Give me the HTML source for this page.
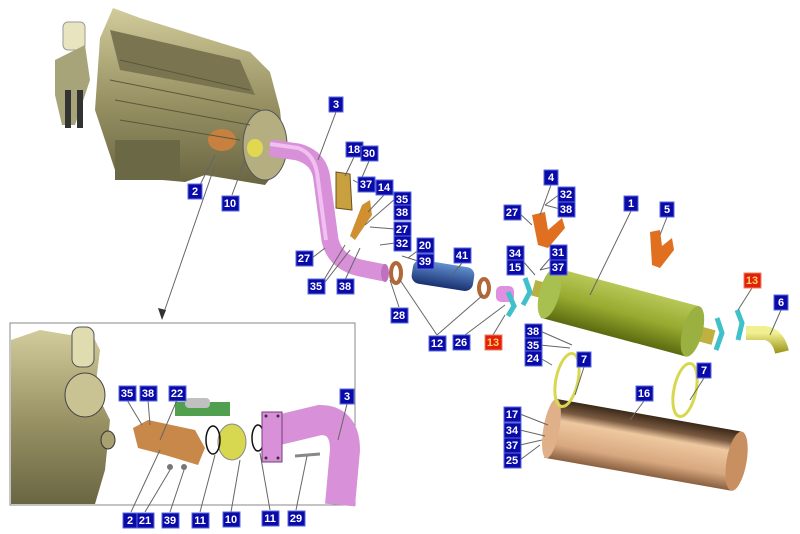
<!DOCTYPE html>
<html><head><meta charset="utf-8"><style>
html,body{margin:0;padding:0;background:#fff;}
svg{display:block;}
.l rect{fill:#0a0aa8;stroke:#5a6adf;stroke-width:1;}
.r rect{fill:#e0200c;stroke:#f08060;stroke-width:1;}
.l text,.r text{font-family:"Liberation Sans",sans-serif;font-weight:bold;font-size:11px;fill:#fff;text-anchor:middle;}
.r text{fill:#ffd060;}
.ln{stroke:#666;stroke-width:1;fill:none;}
</style></head><body>
<svg width="800" height="534" viewBox="0 0 800 534" xmlns="http://www.w3.org/2000/svg">
<defs>
<linearGradient id="eng" x1="0" y1="0" x2="0" y2="1"><stop offset="0" stop-color="#d2cc9c"/><stop offset="0.5" stop-color="#9a9466"/><stop offset="1" stop-color="#6a6642"/></linearGradient>
<linearGradient id="grn" x1="0" y1="0" x2="0" y2="1"><stop offset="0" stop-color="#b8c858"/><stop offset="0.5" stop-color="#98aa30"/><stop offset="1" stop-color="#5a6a10"/></linearGradient>
<linearGradient id="brn" x1="0" y1="0" x2="0" y2="1"><stop offset="0" stop-color="#3a2818"/><stop offset="0.2" stop-color="#7a5a40"/><stop offset="0.35" stop-color="#eec8a0"/><stop offset="0.75" stop-color="#d8a880"/><stop offset="1" stop-color="#8a6040"/></linearGradient>
<linearGradient id="blu" x1="0" y1="0" x2="0" y2="1"><stop offset="0" stop-color="#6090d0"/><stop offset="1" stop-color="#1a3070"/></linearGradient>
<linearGradient id="yel" x1="0" y1="0" x2="0" y2="1"><stop offset="0" stop-color="#f0f090"/><stop offset="1" stop-color="#a09820"/></linearGradient>
</defs>

<!-- Engine -->
<polygon points="100,38 113,8 140,18 250,52 270,72 280,110 285,160 265,185 235,180 205,175 185,182 140,178 115,170 95,110" fill="url(#eng)"/>
<polygon points="110,30 240,60 255,95 120,70" fill="#7a7550"/>
<rect x="115" y="140" width="65" height="40" fill="#6b6845"/>
<ellipse cx="265" cy="145" rx="22" ry="35" fill="#b4ae80" stroke="#555" stroke-width="1"/>
<rect x="63" y="22" width="22" height="28" rx="5" fill="#e8e4c0" stroke="#999"/>
<polygon points="55,60 85,45 90,80 75,125 62,125 55,95" fill="#a8a47a"/>
<rect x="65" y="90" width="6" height="38" fill="#333"/>
<rect x="77" y="90" width="6" height="38" fill="#333"/>
<ellipse cx="222" cy="140" rx="14" ry="11" fill="#c88040"/>
<ellipse cx="255" cy="148" rx="8" ry="9" fill="#e0d850"/>
<g stroke="#5a573a" stroke-width="1" fill="none">
<path d="M120,60 L250,90 M110,80 L260,110 M115,100 L250,125 M120,120 L240,140"/>
</g>

<!-- Pipe 3 -->
<path d="M270,148 L298,152 Q320,158 322,180 L330,240 Q335,262 360,268 L385,273" stroke="#d890d8" stroke-width="17" fill="none"/>
<path d="M270,144 L298,148 Q316,154 318,180 L326,240" stroke="#f0c0f0" stroke-width="4" fill="none"/>
<ellipse cx="385" cy="273" rx="4" ry="9" fill="#c070c0"/>

<polygon points="336,172 350,174 352,210 336,208" fill="#c8a040" stroke="#6a5020"/>
<polygon points="362,205 370,200 372,215 355,240 350,236" fill="#d09030"/>
<ellipse cx="396" cy="273" rx="5" ry="10" fill="none" stroke="#b06838" stroke-width="4"/>
<ellipse cx="484" cy="288" rx="5" ry="9" fill="none" stroke="#b06838" stroke-width="4"/>
<g transform="rotate(9 440 275)"><rect x="412" y="263" width="62" height="24" rx="8" fill="url(#blu)"/></g>
<rect x="496" y="286" width="18" height="16" rx="5" fill="#e090e0"/>
<path d="M508,292 L514,306 L508,316" stroke="#40c0c8" stroke-width="5" fill="none"/>
<path d="M525,278 L530,292 L523,305" stroke="#40c0c8" stroke-width="5" fill="none"/>

<!-- Muffler 1 -->
<g transform="rotate(15 620 312)">
<rect x="530" y="303" width="20" height="16" fill="#b8b040"/>
<rect x="695" y="305" width="22" height="15" fill="#c0b040"/>
<rect x="545" y="286" width="150" height="52" fill="url(#grn)"/>
<ellipse cx="695" cy="312" rx="10" ry="26" fill="#9ab040"/>
<ellipse cx="547" cy="312" rx="10" ry="26" fill="#a8c050"/>
</g>
<path d="M717,318 L722,333 L716,350" stroke="#40c0c8" stroke-width="5" fill="none"/>
<path d="M737,310 L742,323 L738,340" stroke="#40c0c8" stroke-width="5" fill="none"/>
<path d="M746,333 L765,333 Q778,335 782,352" stroke="url(#yel)" stroke-width="14" fill="none"/>
<polygon points="532,215 545,212 548,230 562,218 565,228 548,248 538,245" fill="#e07020"/>
<polygon points="650,232 660,230 662,246 672,238 674,250 660,268 652,265" fill="#e07020"/>

<!-- Shield 16 -->
<g transform="rotate(10 645 445)">
<rect x="548" y="415" width="190" height="60" fill="url(#brn)"/>
<ellipse cx="738" cy="445" rx="10" ry="30" fill="#c89060"/>
<ellipse cx="550" cy="445" rx="8" ry="30" fill="#e0b088"/>
</g>
<ellipse cx="567" cy="380" rx="11" ry="27" fill="none" stroke="#d8d850" stroke-width="3" transform="rotate(12 567 380)"/>
<ellipse cx="685" cy="390" rx="11" ry="27" fill="none" stroke="#d8d850" stroke-width="3" transform="rotate(12 685 390)"/>

<!-- arrow -->
<path class="ln" d="M215,165 L162,318"/>
<polygon points="162,320 158,308 166,310" fill="#333"/>

<!-- Inset -->
<rect x="10" y="323" width="345" height="182" fill="#fff" stroke="#888" stroke-width="1"/>
<polygon points="11,340 40,330 70,335 90,330 100,350 95,390 110,420 105,470 95,504 11,504" fill="url(#eng)"/>
<ellipse cx="85" cy="395" rx="20" ry="22" fill="#c9c394" stroke="#444"/>
<rect x="72" y="327" width="22" height="40" rx="8" fill="#e0dcb0" stroke="#555"/>
<ellipse cx="108" cy="440" rx="7" ry="9" fill="#a8a070" stroke="#333"/>
<polygon points="133,428 148,420 195,430 205,448 198,465 165,455 138,448" fill="#c8884a"/>
<rect x="175" y="402" width="55" height="14" fill="#50a050"/>
<rect x="185" y="398" width="25" height="10" rx="4" fill="#c0c0c0"/>
<ellipse cx="232" cy="442" rx="14" ry="18" fill="#d8d850" stroke="#888"/>
<ellipse cx="213" cy="440" rx="7" ry="14" fill="none" stroke="#111" stroke-width="1.5"/>
<ellipse cx="258" cy="438" rx="6" ry="13" fill="none" stroke="#111" stroke-width="1.5"/>
<path d="M270,432 L320,420 Q345,420 345,450 L340,505" stroke="#d890d8" stroke-width="30" fill="none"/>
<polygon points="262,412 282,412 282,462 262,462" fill="#d890d8" stroke="#7a3a7a"/>
<circle cx="266" cy="416" r="1.5" fill="#333"/><circle cx="278" cy="416" r="1.5" fill="#333"/><circle cx="266" cy="458" r="1.5" fill="#333"/><circle cx="278" cy="458" r="1.5" fill="#333"/>
<line x1="295" y1="456" x2="320" y2="454" stroke="#888" stroke-width="3"/>
<circle cx="170" cy="467" r="3" fill="#777"/><circle cx="184" cy="467" r="3" fill="#777"/>

<!-- leader lines -->
<g class="ln">
<path d="M336,112 L318,160"/><path d="M354,157 L345,176"/><path d="M369,161 L360,182"/>
<path d="M360,184 L353,180"/><path d="M384,195 L368,212"/><path d="M395,199 L365,225"/>
<path d="M395,229 L370,227"/><path d="M395,243 L380,245"/><path d="M420,249 L408,258"/><path d="M418,261 L402,256"/>
<path d="M462,263 L452,275"/><path d="M312,258 L325,248"/><path d="M322,283 L345,245"/><path d="M322,286 L350,250"/><path d="M345,280 L360,248"/>
<path d="M399,307 L390,280"/><path d="M437,335 L400,280"/><path d="M437,335 L483,295"/><path d="M465,335 L505,305"/><path d="M493,335 L505,315"/>
<path d="M200,185 L215,155"/><path d="M232,195 L245,160"/>
<path d="M551,185 L540,215"/><path d="M560,194 L545,205"/><path d="M560,209 L545,205"/><path d="M518,212 L532,225"/>
<path d="M631,211 L590,295"/><path d="M667,217 L660,235"/><path d="M522,260 L535,275"/><path d="M552,256 L540,270"/><path d="M552,267 L540,270"/>
<path d="M752,288 L738,310"/><path d="M781,310 L770,335"/>
<path d="M540,331 L572,345"/><path d="M540,345 L570,348"/><path d="M540,358 L552,365"/>
<path d="M584,367 L575,395"/><path d="M704,378 L690,400"/><path d="M644,401 L630,420"/>
<path d="M520,414 L548,425"/><path d="M520,430 L545,436"/><path d="M520,445 L542,440"/><path d="M520,460 L540,445"/>
<path d="M127,400 L142,425"/><path d="M148,400 L150,425"/><path d="M177,400 L160,440"/><path d="M347,404 L338,440"/>
<path d="M131,512 L160,450"/><path d="M145,512 L170,470"/><path d="M170,512 L184,470"/><path d="M200,512 L215,455"/><path d="M231,512 L240,460"/><path d="M270,510 L260,453"/><path d="M296,510 L307,456"/>
</g>

<!-- labels -->
<g class="l">
<g transform="translate(336,104)"><rect x="-7" y="-7" width="14" height="15"/><text y="4">3</text></g>
<g transform="translate(354,149)"><rect x="-8" y="-7" width="17" height="15"/><text y="4">18</text></g>
<g transform="translate(369,153)"><rect x="-8" y="-7" width="17" height="15"/><text y="4">30</text></g>
<g transform="translate(366,184)"><rect x="-8" y="-7" width="17" height="15"/><text y="4">37</text></g>
<g transform="translate(384,187)"><rect x="-8" y="-7" width="17" height="15"/><text y="4">14</text></g>
<g transform="translate(402,199)"><rect x="-8" y="-7" width="17" height="15"/><text y="4">35</text></g>
<g transform="translate(402,212)"><rect x="-8" y="-7" width="17" height="15"/><text y="4">38</text></g>
<g transform="translate(402,229)"><rect x="-8" y="-7" width="17" height="15"/><text y="4">27</text></g>
<g transform="translate(402,243)"><rect x="-8" y="-7" width="17" height="15"/><text y="4">32</text></g>
<g transform="translate(425,245)"><rect x="-8" y="-7" width="17" height="15"/><text y="4">20</text></g>
<g transform="translate(425,261)"><rect x="-8" y="-7" width="17" height="15"/><text y="4">39</text></g>
<g transform="translate(462,255)"><rect x="-8" y="-7" width="17" height="15"/><text y="4">41</text></g>
<g transform="translate(304,258)"><rect x="-8" y="-7" width="17" height="15"/><text y="4">27</text></g>
<g transform="translate(316,286)"><rect x="-8" y="-7" width="17" height="15"/><text y="4">35</text></g>
<g transform="translate(345,286)"><rect x="-8" y="-7" width="17" height="15"/><text y="4">38</text></g>
<g transform="translate(399,315)"><rect x="-8" y="-7" width="17" height="15"/><text y="4">28</text></g>
<g transform="translate(437,343)"><rect x="-8" y="-7" width="17" height="15"/><text y="4">12</text></g>
<g transform="translate(461,342)"><rect x="-8" y="-7" width="17" height="15"/><text y="4">26</text></g>
<g transform="translate(195,191)"><rect x="-7" y="-7" width="14" height="15"/><text y="4">2</text></g>
<g transform="translate(230,203)"><rect x="-8" y="-7" width="17" height="15"/><text y="4">10</text></g>
<g transform="translate(551,177)"><rect x="-7" y="-7" width="14" height="15"/><text y="4">4</text></g>
<g transform="translate(566,194)"><rect x="-8" y="-7" width="17" height="15"/><text y="4">32</text></g>
<g transform="translate(566,209)"><rect x="-8" y="-7" width="17" height="15"/><text y="4">38</text></g>
<g transform="translate(512,212)"><rect x="-8" y="-7" width="17" height="15"/><text y="4">27</text></g>
<g transform="translate(631,203)"><rect x="-7" y="-7" width="14" height="15"/><text y="4">1</text></g>
<g transform="translate(667,209)"><rect x="-7" y="-7" width="14" height="15"/><text y="4">5</text></g>
<g transform="translate(515,253)"><rect x="-8" y="-7" width="17" height="15"/><text y="4">34</text></g>
<g transform="translate(515,267)"><rect x="-8" y="-7" width="17" height="15"/><text y="4">15</text></g>
<g transform="translate(558,252)"><rect x="-8" y="-7" width="17" height="15"/><text y="4">31</text></g>
<g transform="translate(558,267)"><rect x="-8" y="-7" width="17" height="15"/><text y="4">37</text></g>
<g transform="translate(781,302)"><rect x="-7" y="-7" width="14" height="15"/><text y="4">6</text></g>
<g transform="translate(533,331)"><rect x="-8" y="-7" width="17" height="15"/><text y="4">38</text></g>
<g transform="translate(533,345)"><rect x="-8" y="-7" width="17" height="15"/><text y="4">35</text></g>
<g transform="translate(533,358)"><rect x="-8" y="-7" width="17" height="15"/><text y="4">24</text></g>
<g transform="translate(584,359)"><rect x="-7" y="-7" width="14" height="15"/><text y="4">7</text></g>
<g transform="translate(704,370)"><rect x="-7" y="-7" width="14" height="15"/><text y="4">7</text></g>
<g transform="translate(644,393)"><rect x="-8" y="-7" width="17" height="15"/><text y="4">16</text></g>
<g transform="translate(512,414)"><rect x="-8" y="-7" width="17" height="15"/><text y="4">17</text></g>
<g transform="translate(512,430)"><rect x="-8" y="-7" width="17" height="15"/><text y="4">34</text></g>
<g transform="translate(512,445)"><rect x="-8" y="-7" width="17" height="15"/><text y="4">37</text></g>
<g transform="translate(512,460)"><rect x="-8" y="-7" width="17" height="15"/><text y="4">25</text></g>
<g transform="translate(127,393)"><rect x="-8" y="-7" width="17" height="15"/><text y="4">35</text></g>
<g transform="translate(148,393)"><rect x="-8" y="-7" width="17" height="15"/><text y="4">38</text></g>
<g transform="translate(177,393)"><rect x="-8" y="-7" width="17" height="15"/><text y="4">22</text></g>
<g transform="translate(347,396)"><rect x="-7" y="-7" width="14" height="15"/><text y="4">3</text></g>
<g transform="translate(130,520)"><rect x="-7" y="-7" width="14" height="15"/><text y="4">2</text></g>
<g transform="translate(145,520)"><rect x="-8" y="-7" width="17" height="15"/><text y="4">21</text></g>
<g transform="translate(170,520)"><rect x="-8" y="-7" width="17" height="15"/><text y="4">39</text></g>
<g transform="translate(200,520)"><rect x="-8" y="-7" width="17" height="15"/><text y="4">11</text></g>
<g transform="translate(231,519)"><rect x="-8" y="-7" width="17" height="15"/><text y="4">10</text></g>
<g transform="translate(270,518)"><rect x="-8" y="-7" width="17" height="15"/><text y="4">11</text></g>
<g transform="translate(296,518)"><rect x="-8" y="-7" width="17" height="15"/><text y="4">29</text></g>
</g>
<g class="r">
<g transform="translate(493,342)"><rect x="-8" y="-7" width="17" height="15"/><text y="4">13</text></g>
<g transform="translate(752,280)"><rect x="-8" y="-7" width="17" height="15"/><text y="4">13</text></g>
</g>
</svg>
</body></html>
